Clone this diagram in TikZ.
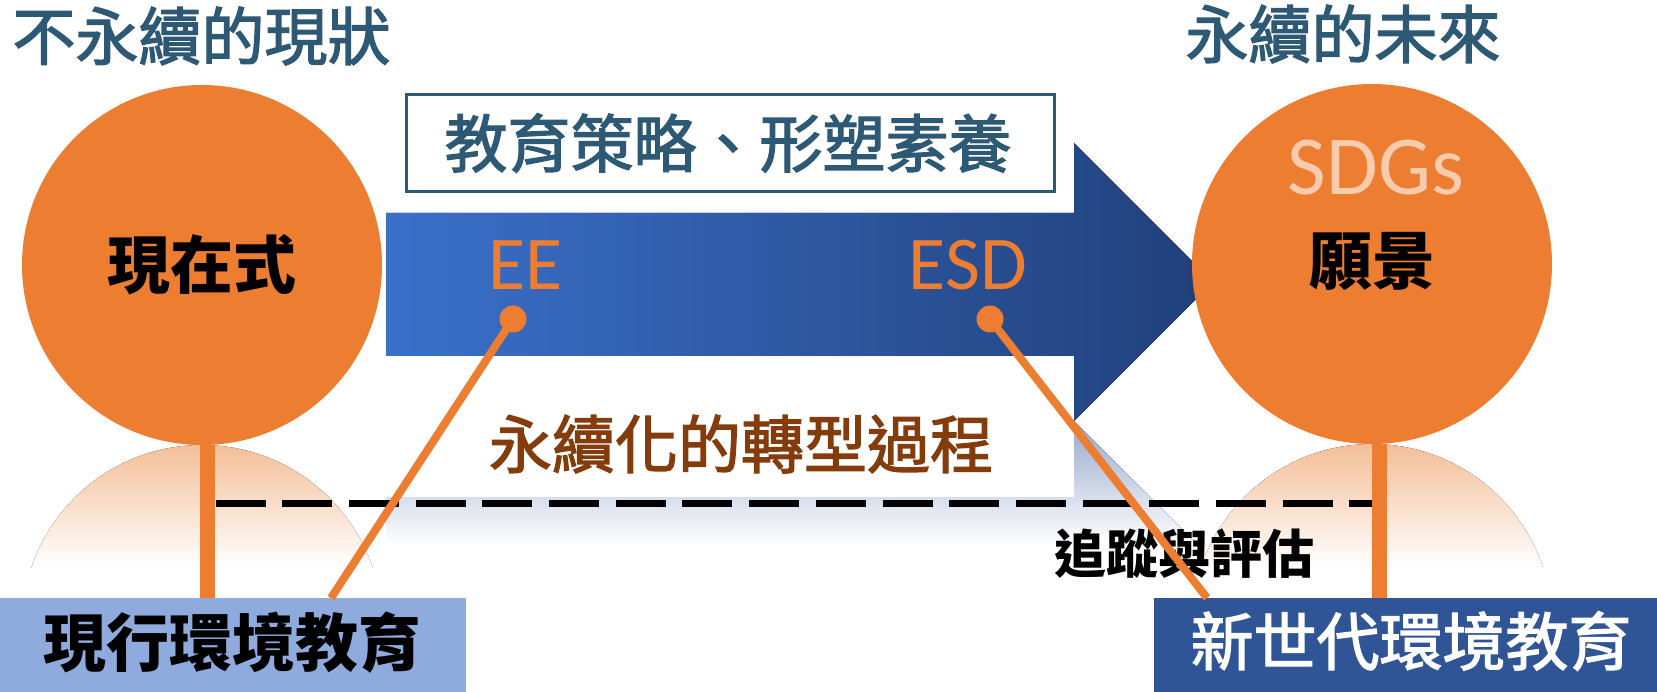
\documentclass[tikz,border=0pt]{standalone}
\usepackage{fontspec}
\newfontfamily\cjk{Noto Sans CJK TC}
\newfontfamily\lat{Carlito}
\newcommand\medw[1]{\special{pdf:literal direct 2 Tr 1.3 w}#1\special{pdf:literal direct 0 Tr}}
\definecolor{ttl}{RGB}{46,89,117}
\definecolor{orng}{RGB}{237,125,49}
\definecolor{brwn}{RGB}{132,60,12}
\definecolor{sdg}{RGB}{248,203,173}
\definecolor{lboxc}{RGB}{143,170,220}
\definecolor{rboxc}{RGB}{47,85,151}
\definecolor{arrL}{RGB}{58,112,202}
\definecolor{arrR}{RGB}{33,64,122}
\definecolor{refb}{RGB}{150,168,205}
\definecolor{refo}{RGB}{244,190,152}
\begin{document}
\begin{tikzpicture}[x=1pt,y=-1pt,
  big/.style={font=\cjk\fontsize{63}{70}\selectfont, inner sep=0pt},
  bigb/.style={font=\cjk\bfseries\fontsize{63}{70}\selectfont, inner sep=0pt},
  circ/.style={circle, fill=orng, minimum size=360pt, inner sep=0pt, font=\cjk\bfseries\fontsize{63}{70}\selectfont},
  stem/.style={orng, line width=15.5pt},
  conn/.style={orng, line width=8pt},
  dot/.style={circle, fill=orng, minimum size=27pt, inner sep=0pt},
  dashline/.style={black, line width=7pt, dash pattern=on 50pt off 16.7pt},
  tbox/.style={draw=ttl, line width=3pt, fill=white, minimum width=648pt, minimum height=97pt, inner sep=0pt},
  latin/.style={font=\lat\fontsize{76}{80}\selectfont, inner sep=0pt}
]
\useasboundingbox (0,0) rectangle (1657,692);
\fill[white] (0,0) rectangle (1657,692);

% reflection of the arrow
\begin{scope}
  \clip (386,629) -- (1074,629) -- (1074,699) -- (1213,560) -- (1074,421) -- (1074,486) -- (386,486) -- cycle;
  \fill[top color=refb, bottom color=white] (380,421) rectangle (1220,545);
\end{scope}
\fill[white] (386,356) rectangle (1074,497);

% arrow
\fill[left color=arrL, right color=arrR] (386,213) -- (1074,213) -- (1074,143) -- (1213,282) -- (1074,421) -- (1074,356) -- (386,356) -- cycle;

% reflections of the circles
\begin{scope}
  \clip (202,625) circle[radius=180pt];
  \fill[top color=refo, bottom color=white] (0,444) rectangle (420,568);
\end{scope}
\begin{scope}
  \clip (1372,624) circle[radius=180pt];
  \fill[top color=refo, bottom color=white] (1180,444) rectangle (1570,568);
\end{scope}

% titles
\node[big, text=ttl] (t1) at (201.5,36) {\medw{不永續的現狀}};
\node[big, text=ttl] (t2) at (1343,34) {\medw{永續的未來}};

% strategy box
\node[tbox] (strat) at (730,143.5) {};
\node[big, text=ttl] (stratt) at (728,143) {\medw{教育策略、形塑素養}};

% circles
\node[circ] (lc) at (202,265) {現在式};
\node[circ] (rc) at (1372,264) {};
\node[latin, text=sdg, font=\lat\fontsize{84}{90}\selectfont] (sdgs) at (1376,168) {SDGs};
\node[bigb] (vision) at (1372,261) {願景};

% bottom boxes
\node[fill=lboxc, minimum width=466pt, minimum height=94pt, inner sep=0pt] (lb) at (233,645) {};
\node[fill=rboxc, minimum width=503pt, minimum height=94pt, inner sep=0pt] (rb) at (1405.5,645) {};
\node[bigb] (lbt) at (232,643) {現行環境教育};
\node[big, text=white] (rbt) at (1411,641) {\medw{新世代環境教育}};

% stems
\coordinate (ls) at (207.5,598);
\coordinate (rs) at (1379.5,598);
\draw[stem] (lc.south -| ls) -- (ls);
\draw[stem] (rc.south -| rs) -- (rs);

% dashed line
\coordinate (dl) at (215.5,503);
\coordinate (dr) at (1371.5,503);
\draw[dashline] (dl) -- (dr);

% labels
\node[latin, text=orng] (ee) at (526,265) {EE};
\node[latin, text=orng] (esd) at (968,265) {ESD};
\node[big, text=brwn] (trans) at (741,444) {\medw{永續化的轉型過程}};
\node[big, font=\cjk\bfseries\fontsize{52}{60}\selectfont] (track) at (1184,554) {追蹤與評估};

% connectors
\node[dot] (eed) at (513,319) {};
\node[dot] (esdd) at (990,319) {};
\coordinate (eeend) at (331,598);
\coordinate (esdend) at (1207,598);
\draw[conn] (eed.center) -- (eeend);
\draw[conn] (esdd.center) -- (esdend);
\end{tikzpicture}
\end{document}
